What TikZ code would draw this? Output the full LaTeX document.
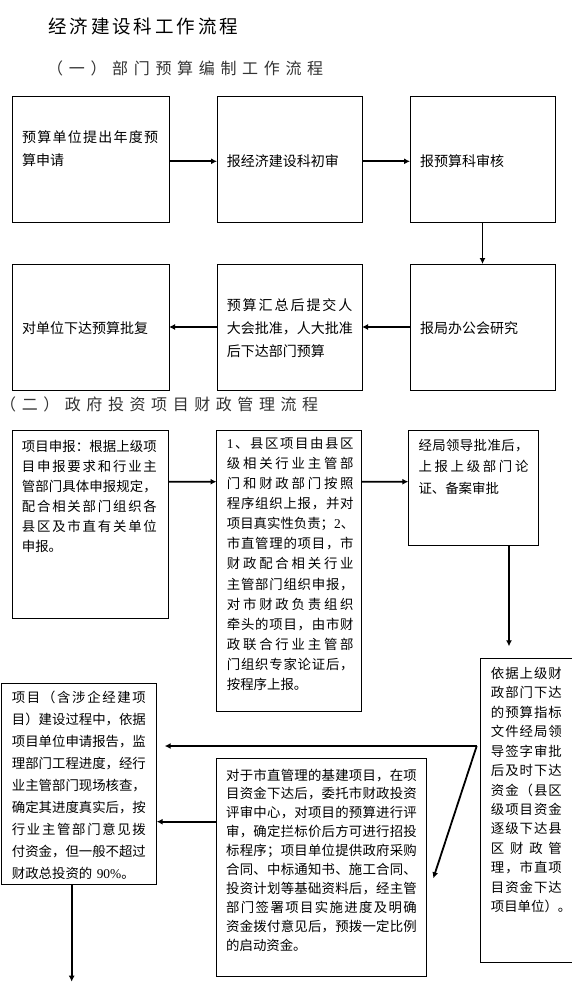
\documentclass[tikz,border=0pt]{standalone}
\usepackage{fontspec}
\setmainfont{Noto Sans CJK SC}
\newfontfamily\latinfont{Liberation Serif}
\usetikzlibrary{arrows.meta}
\setlength{\parindent}{0pt}
\makeatletter
\newcommand{\spread}[2]{\leavevmode\hbox to #1{\@tfor\spr@ch:=#2\do{\spr@ch\hfil}\unskip}}
\makeatother
\newcommand{\jl}[1]{\spread{\linewidth}{#1}}
\tikzstyle{frame}=[draw,line width=0.8pt,inner sep=0pt,outer sep=0pt]
\tikzstyle{flow}=[-{Latex[length=6pt,width=6pt]},line width=1.8pt]
\tikzstyle{heading}=[inner sep=0pt,anchor=west,font=\fontsize{18.5pt}{22pt}\selectfont]
\tikzstyle{subheading}=[inner sep=0pt,anchor=west,text=black!80,font=\fontsize{16pt}{20pt}\selectfont]
\tikzstyle{linetext}=[inner sep=0pt,anchor=west,font=\fontsize{14pt}{20pt}\selectfont]
\tikzset{boxtext/.style n args={3}{inner sep=0pt,anchor=west,align=left,text width=#1,font=\fontsize{#2}{#3}\selectfont}}

\begin{document}
\begin{tikzpicture}[x=1pt,y=-1pt]
  \path[use as bounding box,fill=white] (0,0) rectangle (572,983);

  % headings
  \node[heading] (title) at (48,26.5) {\spread{190pt}{经济建设科工作流程}};
  \node[subheading] (sub1) at (47,68.5) {\spread{276pt}{（一）部门预算编制工作流程}};
  \node[subheading] (sub2) at (0,404) {\spread{318pt}{（二）政府投资项目财政管理流程}};

  % part one
  \node[frame,minimum width=156.5pt,minimum height=125.4pt] (req) at (90.75,159.3) {};
  \node[frame,minimum width=145pt,minimum height=125.4pt] (first) at (289.5,159.3) {};
  \node[frame,minimum width=145pt,minimum height=125.4pt] (check) at (482.5,159.3) {};
  \node[frame,minimum width=156.5pt,minimum height=126pt] (reply) at (90.75,327) {};
  \node[frame,minimum width=145pt,minimum height=126pt] (congress) at (289.5,327) {};
  \node[frame,minimum width=145pt,minimum height=126pt] (office) at (482.5,327) {};

  \node[boxtext={136pt}{14pt}{22.7pt}] (reqtxt) at (22,148.3) {\jl{预算单位提出年度预}\\算申请};
  \node[linetext] (firsttxt) at (226.6,161.5) {报经济建设科初审};
  \node[linetext] (checktxt) at (420,161.5) {报预算科审核};
  \node[linetext] (replytxt) at (22,327.7) {对单位下达预算批复};
  \node[boxtext={125.6pt}{14pt}{23pt}] (congresstxt) at (226.6,328) {\jl{预算汇总后提交人}\\\jl{大会批准，人大批准}\\后下达部门预算};
  \node[linetext] (officetxt) at (420,327.7) {报局办公会研究};

  \draw[flow] ([yshift=-2pt]req.east) -- ([yshift=-2pt]first.west);
  \draw[flow] ([yshift=-2pt]first.east) -- ([yshift=-2pt]check.west);
  \draw[flow] (check.south) -- (office.north);
  \draw[flow] (office.west) -- (congress.east);
  \draw[flow] (congress.west) -- (reply.east);

  % part two
  \node[frame,minimum width=156pt,minimum height=188pt] (declare) at (90,524) {};
  \node[frame,minimum width=145.2pt,minimum height=281.7pt] (submit) at (289.1,570.85) {};
  \node[frame,minimum width=130pt,minimum height=115pt] (approve) at (473.3,487.5) {};
  \node[frame,minimum width=109.3pt,minimum height=304.4pt] (allot) at (535.35,810.5) {};
  \node[frame,minimum width=210pt,minimum height=218.4pt] (review) at (321.7,867.5) {};
  \node[frame,minimum width=155pt,minimum height=200.7pt] (pay) at (79.2,783.65) {};

  \node[boxtext={135pt}{13.4pt}{20pt}] (declaretxt) at (21.7,496.7) {%
    \jl{项目申报：根据上级项}\\
    \jl{目申报要求和行业主}\\
    \jl{管部门具体申报规定，}\\
    \jl{配合相关部门组织各}\\
    \jl{县区及市直有关单位}\\
    申报。};
  \node[boxtext={126.7pt}{13.4pt}{20.1pt}] (submittxt) at (226.7,563.9) {%
    \jl{{{\latinfont 1}}、县区项目由县区}\\
    \jl{级相关行业主管部}\\
    \jl{门和财政部门按照}\\
    \jl{程序组织上报，并对}\\
    \jl{项目真实性负责；{{\latinfont 2}}、}\\
    \jl{市直管理的项目，市}\\
    \jl{财政配合相关行业}\\
    \jl{主管部门组织申报，}\\
    \jl{对市财政负责组织}\\
    \jl{牵头的项目，由市财}\\
    \jl{政联合行业主管部}\\
    \jl{门组织专家论证后，}\\
    按程序上报。};
  \node[boxtext={110pt}{13.4pt}{21.7pt}] (approvetxt) at (418.3,466.7) {%
    \jl{经局领导批准后，}\\
    \jl{上报上级部门论}\\
    证、备案审批};
  \node[boxtext={71pt}{13.4pt}{19.45pt}] (allottxt) at (490.7,790) {%
    \jl{依据上级财}\\
    \jl{政部门下达}\\
    \jl{的预算指标}\\
    \jl{文件经局领}\\
    \jl{导签字审批}\\
    \jl{后及时下达}\\
    \jl{资金（县区}\\
    \jl{级项目资金}\\
    \jl{逐级下达县}\\
    \jl{区财政管}\\
    \jl{理，市直项}\\
    \jl{目资金下达}\\
    项目单位）。};
  \node[boxtext={190.7pt}{13.4pt}{18.9pt}] (reviewtxt) at (226,860) {%
    \jl{对于市直管理的基建项目，在项}\\
    \jl{目资金下达后，委托市财政投资}\\
    \jl{评审中心，对项目的预算进行评}\\
    \jl{审，确定拦标价后方可进行招投}\\
    \jl{标程序；项目单位提供政府采购}\\
    \jl{合同、中标通知书、施工合同、}\\
    \jl{投资计划等基础资料后，经主管}\\
    \jl{部门签署项目实施进度及明确}\\
    \jl{资金拨付意见后，预拨一定比例}\\
    的启动资金。};
  \node[boxtext={134pt}{13.4pt}{22pt}] (paytxt) at (11.7,785.7) {%
    \jl{项目（含涉企经建项}\\
    \jl{目）建设过程中，依据}\\
    \jl{项目单位申请报告，监}\\
    \jl{理部门工程进度，经行}\\
    \jl{业主管部门现场核查，}\\
    \jl{确定其进度真实后，按}\\
    \jl{行业主管部门意见拨}\\
    \jl{付资金，但一般不超过}\\
    财政总投资的 {\latinfont 90\%}。};

  \coordinate (split) at ([xshift=-4pt,yshift=-87.7pt]allot.north west);
  \coordinate (out) at (71.7,981.7);

  \draw[flow] ([yshift=-51.7pt]declare.north east) -- ([yshift=-51.7pt]submit.north west);
  \draw[flow] ([yshift=-51.7pt]submit.north east) -- ([yshift=-51.7pt]approve.north west);
  \draw[flow,shorten >=12pt] ([xshift=100.7pt]approve.south west) -- ([xshift=100.7pt]approve.south west |- allot.north);
  \draw[flow,shorten >=8pt] (split) -- (split -| pay.east);
  \draw[flow] (split) -- ([xshift=6.6pt,yshift=-120pt]review.north east);
  \draw[flow] ([yshift=-63.4pt]review.north west) -- ([yshift=-63.4pt]review.north west -| pay.east);
  \draw[flow] (pay.south -| out) -- (out);
\end{tikzpicture}
\end{document}
